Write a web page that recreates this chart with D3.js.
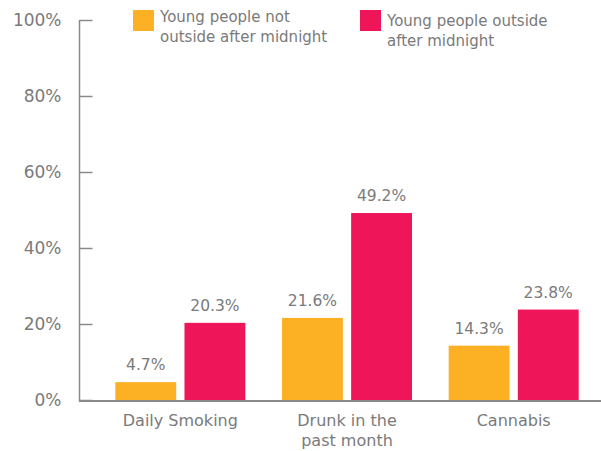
<!DOCTYPE html>
<html><head><meta charset="utf-8">
<script src="https://cdn.jsdelivr.net/npm/d3@7"></script>
<style>body{margin:0;background:#fff}svg{display:block}text{font-family:"DejaVu Sans",sans-serif}</style>
</head><body><svg id="c" width="601" height="451"></svg>
<script>
const categories = [["Daily Smoking"], ["Drunk in the", "past month"], ["Cannabis"]];
const seriesNames = [["Young people not", "outside after midnight"], ["Young people outside", "after midnight"]];
const notOutside = [4.7, 21.6, 14.3];
const outside = [20.3, 49.2, 23.8];
const yTicks = [0, 20, 40, 60, 80, 100];
const colors = ["#FBB123", "#EE1558"];

const svg = d3.select("#c");
const grey = "#7a7a7a", axisGrey = "#8a8a8a";
const y = d3.scaleLinear().domain([0, 100]).range([400, 20]);
const x0 = d3.scaleBand().domain(d3.range(categories.length)).range([97, 597]);
const x1 = d3.scaleBand().domain([0, 1]).range([x0.bandwidth()/2 - 65, x0.bandwidth()/2 + 65]).paddingInner(0.12);

const yAxis = svg.append("g").attr("transform", "translate(79.5,0)")
  .call(d3.axisLeft(y).tickValues(yTicks).tickSize(-13).tickPadding(18).tickFormat(d => d + "%"));
yAxis.selectAll("line").attr("stroke", axisGrey).attr("stroke-width", 1.5);
yAxis.select(".domain").attr("stroke", axisGrey).attr("stroke-width", 1.5).attr("d", "M0,20V401");
yAxis.selectAll("text").attr("fill", grey).style("font-size", "17px").attr("font-family", null);

const series = [notOutside, outside];
series.forEach((vals, s) => {
  const g = svg.append("g");
  g.selectAll("rect").data(vals).join("rect")
    .attr("x", (d, i) => x0(i) + x1(s)).attr("width", x1.bandwidth())
    .attr("y", d => y(d)).attr("height", d => y(0) - y(d) + 1)
    .attr("fill", colors[s]);
  g.selectAll("text").data(vals).join("text")
    .attr("x", (d, i) => x0(i) + x1(s) + x1.bandwidth()/2)
    .attr("y", d => y(d) - 12).attr("text-anchor", "middle")
    .attr("fill", grey).style("font-size", "15.5px")
    .text(d => d.toFixed(1) + "%");
});

svg.append("line").attr("x1", 79).attr("x2", 601).attr("y1", 401).attr("y2", 401)
  .attr("stroke", axisGrey).attr("stroke-width", 2);

const xl = svg.append("g");
categories.forEach((lines, i) => {
  const t = xl.append("text").attr("x", x0(i) + x0.bandwidth()/2).attr("y", 426)
    .attr("text-anchor", "middle").attr("fill", grey).style("font-size", "16px");
  lines.forEach((l, j) => t.append("tspan").attr("x", x0(i) + x0.bandwidth()/2).attr("dy", j ? 20 : 0).text(l));
});

const legendPos = [[133, 10], [360, 10]];
const textOff = [[160, 22], [387, 26]];
seriesNames.forEach((lines, s) => {
  svg.append("rect").attr("x", legendPos[s][0]).attr("y", legendPos[s][1]).attr("width", 21).attr("height", 21).attr("fill", colors[s]);
  const t = svg.append("text").attr("x", textOff[s][0]).attr("y", textOff[s][1]).attr("fill", grey).style("font-size", "15px");
  lines.forEach((l, j) => t.append("tspan").attr("x", textOff[s][0]).attr("dy", j ? 20 : 0).text(l));
});
</script></body></html>
